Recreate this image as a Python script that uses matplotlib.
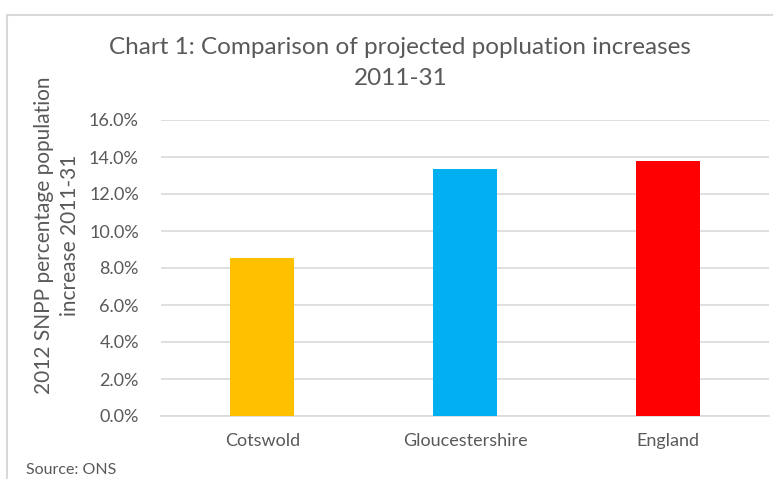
import matplotlib.pyplot as plt
from matplotlib.lines import Line2D
from matplotlib.ticker import FuncFormatter

areas = ['Cotswold', 'Gloucestershire', 'England']
increase = [0.0855, 0.1333, 0.138]
bar_colors = ['#FFC000', '#00B0F0', '#FF0000']

text_grey = '#595959'
grid_grey = '#D9D9D9'
plt.rcParams['font.family'] = ['Lato', 'DejaVu Sans']

fig = plt.figure(figsize=(7.82, 4.79), dpi=100)
ax = fig.add_axes([161 / 782, 1 - 416 / 479, 608 / 782, 296 / 479])

x = range(len(areas))
ax.bar(x, increase, width=0.316, color=bar_colors, zorder=3)

ax.set_ylim(0, 0.16)
ax.set_xlim(-0.5, len(areas) - 0.5)
ax.set_yticks([i * 0.02 for i in range(9)])
ax.yaxis.set_major_formatter(FuncFormatter(lambda v, _: f'{v * 100:.1f}%'))
ax.set_xticks(list(x))
ax.set_xticklabels(areas)
ax.tick_params(length=0, labelsize=13, colors=text_grey)
ax.tick_params(axis='x', pad=12)
ax.tick_params(axis='y', pad=16)

ax.grid(axis='y', color=grid_grey, linewidth=1.2, zorder=0)
for side in ['top', 'right', 'left']:
    ax.spines[side].set_visible(False)
ax.spines['bottom'].set_color(grid_grey)
ax.spines['bottom'].set_linewidth(1.2)

# y-axis title sits a little above the plot centre
fig.text(57 / 782, 1 - 235 / 479, '2012 SNPP percentage population\nincrease 2011-31',
         rotation=90, ha='center', va='center', multialignment='center',
         fontsize=15, color=text_grey, linespacing=1.35)

fig.text(0.512, 1 - 63 / 479, 'Chart 1: Comparison of projected popluation increases\n2011-31',
         ha='center', va='center', fontsize=17.5, color=text_grey, linespacing=1.55)
fig.text(26 / 782, 1 - 470 / 479, 'Source: ONS', ha='left', va='center',
         fontsize=11.5, color=text_grey)

# chart frame (clipped at right and bottom)
fig.add_artist(Line2D([7 / 782, 772 / 782], [1 - 15 / 479] * 2, color=grid_grey, linewidth=1.5))
fig.add_artist(Line2D([7 / 782] * 2, [1 - 15 / 479, 0], color=grid_grey, linewidth=1.5))

fig.savefig('out.png', dpi=100)
